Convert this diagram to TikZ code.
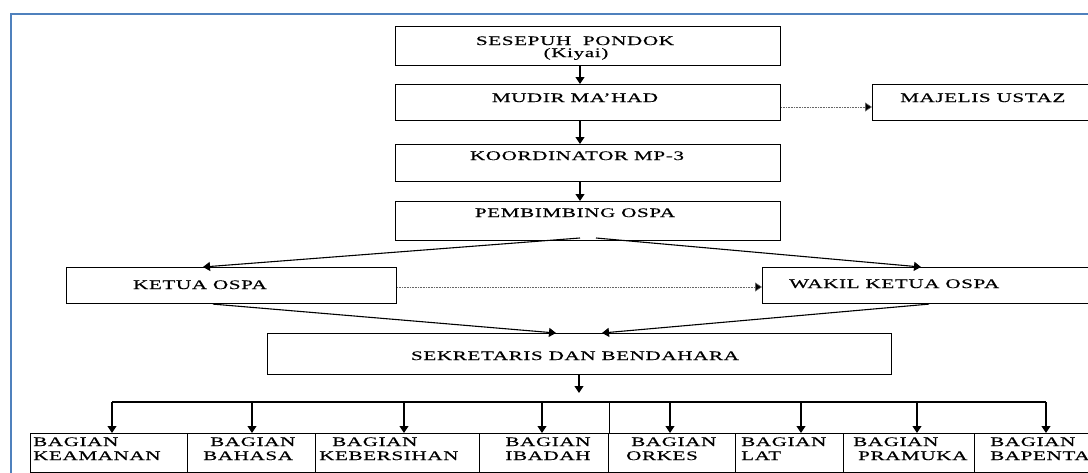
\documentclass[tikz,border=0pt]{standalone}
\usepackage{fontspec}
\setmainfont{Liberation Serif}[FakeStretch=1.62,LetterSpace=5,FakeBold=0.4]
\usetikzlibrary{arrows.meta}
\definecolor{framebl}{RGB}{79,129,189}
\begin{document}
\begin{tikzpicture}[x=1pt,y=-1pt,
  box/.style={draw,line width=1.1pt,anchor=north west,inner sep=0pt},
  lbl/.style={inner sep=0pt,anchor=base,font=\fontsize{13}{15}\selectfont},
  lblw/.style={lbl,anchor=base west},
  arr/.style={line width=1.1pt,-{Triangle[length=7pt,width=9pt]}},
  dotarr/.style={line width=0.6pt,densely dotted,draw=black!60,-{Triangle[length=7pt,width=9pt,fill=black]}},
  ln/.style={line width=1.1pt}]
\useasboundingbox (0,0) rectangle (1088,472);
\clip (0,0) rectangle (1088,472);
\fill[white] (0,0) rectangle (1088,472);
\node[draw=framebl,line width=2.2pt,anchor=north west,minimum width=1200pt,minimum height=600pt,inner sep=0pt] (frame) at (10,13) {};
% top column
\node[box,minimum width=385pt,minimum height=39pt] (ses) at (395,26) {};
\node[box,minimum width=385pt,minimum height=36pt] (mud) at (395,84) {};
\node[box,minimum width=385pt,minimum height=37pt] (koo) at (395,144) {};
\node[box,minimum width=385pt,minimum height=39pt] (pem) at (395,201) {};
\node[box,minimum width=240pt,minimum height=36pt] (maj) at (872,84) {};
\node[box,minimum width=330pt,minimum height=36pt] (ket) at (66,267) {};
\node[box,minimum width=350pt,minimum height=36pt] (wak) at (762,267) {};
\node[box,minimum width=624pt,minimum height=41pt] (sek) at (267,333) {};
% bottom row
\node[box,minimum width=157pt,minimum height=39pt] (b1) at (30,433) {};
\node[box,minimum width=128pt,minimum height=39pt] (b2) at (187,433) {};
\node[box,minimum width=164pt,minimum height=39pt] (b3) at (315,433) {};
\node[box,minimum width=129pt,minimum height=39pt] (b4) at (479,433) {};
\node[box,minimum width=127pt,minimum height=39pt] (b5) at (608,433) {};
\node[box,minimum width=108pt,minimum height=39pt] (b6) at (735,433) {};
\node[box,minimum width=131pt,minimum height=39pt] (b7) at (843,433) {};
\node[box,minimum width=140pt,minimum height=39pt] (b8) at (974,433) {};
% texts
\node[lbl] (tses) at (575,45) {SESEPUH\ \ PONDOK};
\node[lbl] (tkiy) at (576,57) {(Kiyai)};
\node[lbl] (tmud) at (575,102) {MUDIR MA'HAD};
\node[lblw] (tmaj) at (900,102) {MAJELIS USTAZ};
\node[lbl] (tkoo) at (577,160) {KOORDINATOR MP-3};
\node[lbl] (tpem) at (575,217) {PEMBIMBING OSPA};
\node[lbl] (tket) at (200,289) {KETUA OSPA};
\node[lblw] (twak) at (789,288) {WAKIL KETUA OSPA};
\node[lbl] (tsek) at (575,360) {SEKRETARIS DAN BENDAHARA};
\node[lblw] (t1a) at (33,446) {BAGIAN};
\node[lblw] (t1b) at (33,460) {KEAMANAN};
\node[lblw] (t2a) at (210,446) {BAGIAN};
\node[lblw] (t2b) at (203,460) {BAHASA};
\node[lblw] (t3a) at (332,446) {BAGIAN};
\node[lblw] (t3b) at (319,460) {KEBERSIHAN};
\node[lbl] (t4a) at (548,446) {BAGIAN};
\node[lbl] (t4b) at (548,460) {IBADAH};
\node[lblw] (t5a) at (631,446) {BAGIAN};
\node[lblw] (t5b) at (626,460) {ORKES};
\node[lblw] (t6a) at (741,446) {BAGIAN};
\node[lblw] (t6b) at (741,460) {LAT};
\node[lblw] (t7a) at (853,446) {BAGIAN};
\node[lblw] (t7b) at (858,460) {PRAMUKA};
\node[lblw] (t8a) at (990,446) {BAGIAN};
\node[lblw] (t8b) at (990,460) {BAPENTA};
% connectors
\coordinate (cx) at (580,0);
\draw[arr] (ses.south -| cx) -- (mud.north -| cx);
\draw[arr] (mud.south -| cx) -- (koo.north -| cx);
\draw[arr] (koo.south -| cx) -- (pem.north -| cx);
\coordinate (y1) at (0,107);
\draw[dotarr] (mud.east |- y1) -- (maj.west |- y1);
\coordinate (y2) at (0,287);
\draw[dotarr] (ket.east |- y2) -- (wak.west |- y2);
\coordinate (pl) at (580,238);
\coordinate (pr) at (596,238);
\coordinate (kt) at (203,0);
\coordinate (wt) at (921,0);
\draw[arr] (pl) -- (ket.north -| kt);
\draw[arr] (pr) -- (wak.north -| wt);
\coordinate (kb) at (213,0);
\coordinate (wb) at (929,0);
\coordinate (sl) at (556,0);
\coordinate (sr) at (602,0);
\draw[arr] (ket.south -| kb) -- (sek.north -| sl);
\draw[arr] (wak.south -| wb) -- (sek.north -| sr);
\coordinate (sx) at (579,0);
\coordinate (hy) at (0,402);
\coordinate (ay) at (0,393);
\draw[arr] (sek.south -| sx) -- (sx |- ay);
\coordinate (hl) at (112,402);
\coordinate (hr) at (1046,402);
\draw[ln] (hl) -- (hr);
\draw[ln] (b4.north east |- hy) -- (b4.north east);
\foreach \n/\x in {b1/112,b2/252,b3/404,b4/542,b5/670,b6/801,b7/917,b8/1046}{
  \draw[arr] (\x,402) -- (\n.north -| {(\x,0)});
}
\end{tikzpicture}
\end{document}
